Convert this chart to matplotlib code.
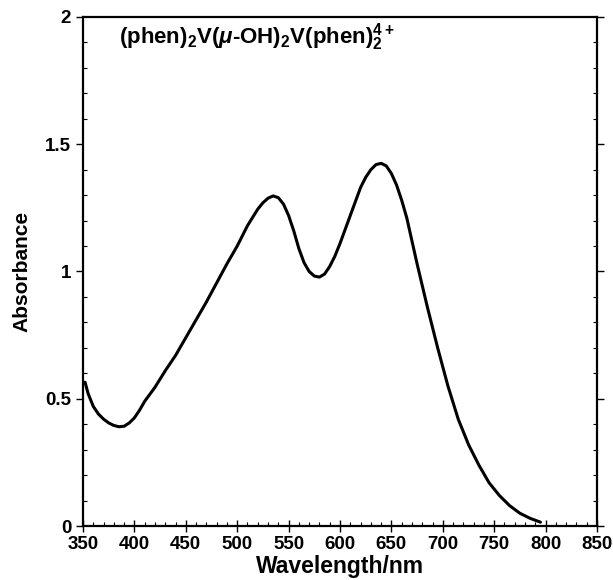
import matplotlib

matplotlib.use("Agg")

import matplotlib.pyplot as plt
from matplotlib.ticker import MultipleLocator

plt.rcParams["font.family"] = ["Liberation Sans", "DejaVu Sans"]
plt.rcParams["font.weight"] = "bold"
plt.rcParams["mathtext.fontset"] = "custom"
plt.rcParams["mathtext.rm"] = "Liberation Sans:bold"
plt.rcParams["mathtext.bf"] = "Liberation Sans:bold"
plt.rcParams["mathtext.it"] = "Liberation Sans:bold:italic"

# spectrum
wavelength = [352, 355, 360, 365, 370, 375, 380, 385, 390, 395, 400, 405,
              410, 420, 430, 440, 450, 460, 470, 480, 490, 500, 510, 520,
              525, 530, 535, 540, 545, 550, 555, 560, 565, 570, 575, 580,
              585, 590, 595, 600, 605, 610, 615, 620, 625, 630, 635, 640,
              645, 650, 655, 660, 665, 675, 685, 695, 705, 715, 725, 735,
              745, 755, 765, 775, 785, 795]
absorbance = [0.565, 0.52, 0.47, 0.44, 0.42, 0.405, 0.395, 0.39, 0.392,
              0.405, 0.425, 0.455, 0.49, 0.545, 0.61, 0.67, 0.74, 0.81,
              0.88, 0.955, 1.03, 1.10, 1.18, 1.245, 1.27, 1.288, 1.297,
              1.29, 1.265, 1.22, 1.16, 1.09, 1.035, 1.00, 0.982, 0.978,
              0.99, 1.02, 1.06, 1.11, 1.165, 1.22, 1.275, 1.33, 1.37, 1.40,
              1.42, 1.425, 1.415, 1.385, 1.34, 1.28, 1.21, 1.03, 0.86,
              0.70, 0.55, 0.42, 0.32, 0.24, 0.17, 0.12, 0.08, 0.05, 0.03,
              0.015]

x_ticks = [350, 400, 450, 500, 550, 600, 650, 700, 750, 800, 850]
y_ticks = [0, 0.5, 1, 1.5, 2]
y_tick_labels = ["0", "0.5", "1", "1.5", "2"]

fig = plt.figure(figsize=(6.13, 5.80), dpi=100)
ax = fig.add_axes([0.1354, 0.0931, 0.8385, 0.8776])

ax.plot(wavelength, absorbance, color="black", linewidth=2.2,
        solid_capstyle="round", solid_joinstyle="round")

ax.set_xlim(350, 850)
ax.set_ylim(0, 2)
ax.set_xticks(x_ticks)
ax.set_yticks(y_ticks)
ax.set_yticklabels(y_tick_labels)
ax.xaxis.set_minor_locator(MultipleLocator(10))
ax.yaxis.set_minor_locator(MultipleLocator(0.1))
ax.tick_params(axis="both", which="major", labelsize=13.5, width=1.0)
ax.tick_params(axis="x", which="major", direction="inout", length=8)
ax.tick_params(axis="y", which="major", direction="out", length=5,
               right=True)
ax.tick_params(axis="both", which="minor", direction="in", length=3,
               width=0.8, right=True)
for label in ax.get_xticklabels() + ax.get_yticklabels():
    label.set_fontweight("bold")
for side in ("left", "right", "top", "bottom"):
    ax.spines[side].set_linewidth(1.6)

ax.set_xlabel("Wavelength/nm", fontsize=16.5, fontweight="bold", labelpad=1)
ax.set_ylabel("Absorbance", fontsize=15, fontweight="bold", labelpad=10)

ax.text(385, 1.92,
        r"(phen)$_{\mathbf{2}}$V($\mathit{\mu}$-OH)$_{\mathbf{2}}$"
        r"V(phen)$_{\mathbf{2}}^{\mathbf{4+}}$",
        fontsize=16, fontweight="bold", va="center", ha="left")

fig.savefig("out.png", dpi=100)
